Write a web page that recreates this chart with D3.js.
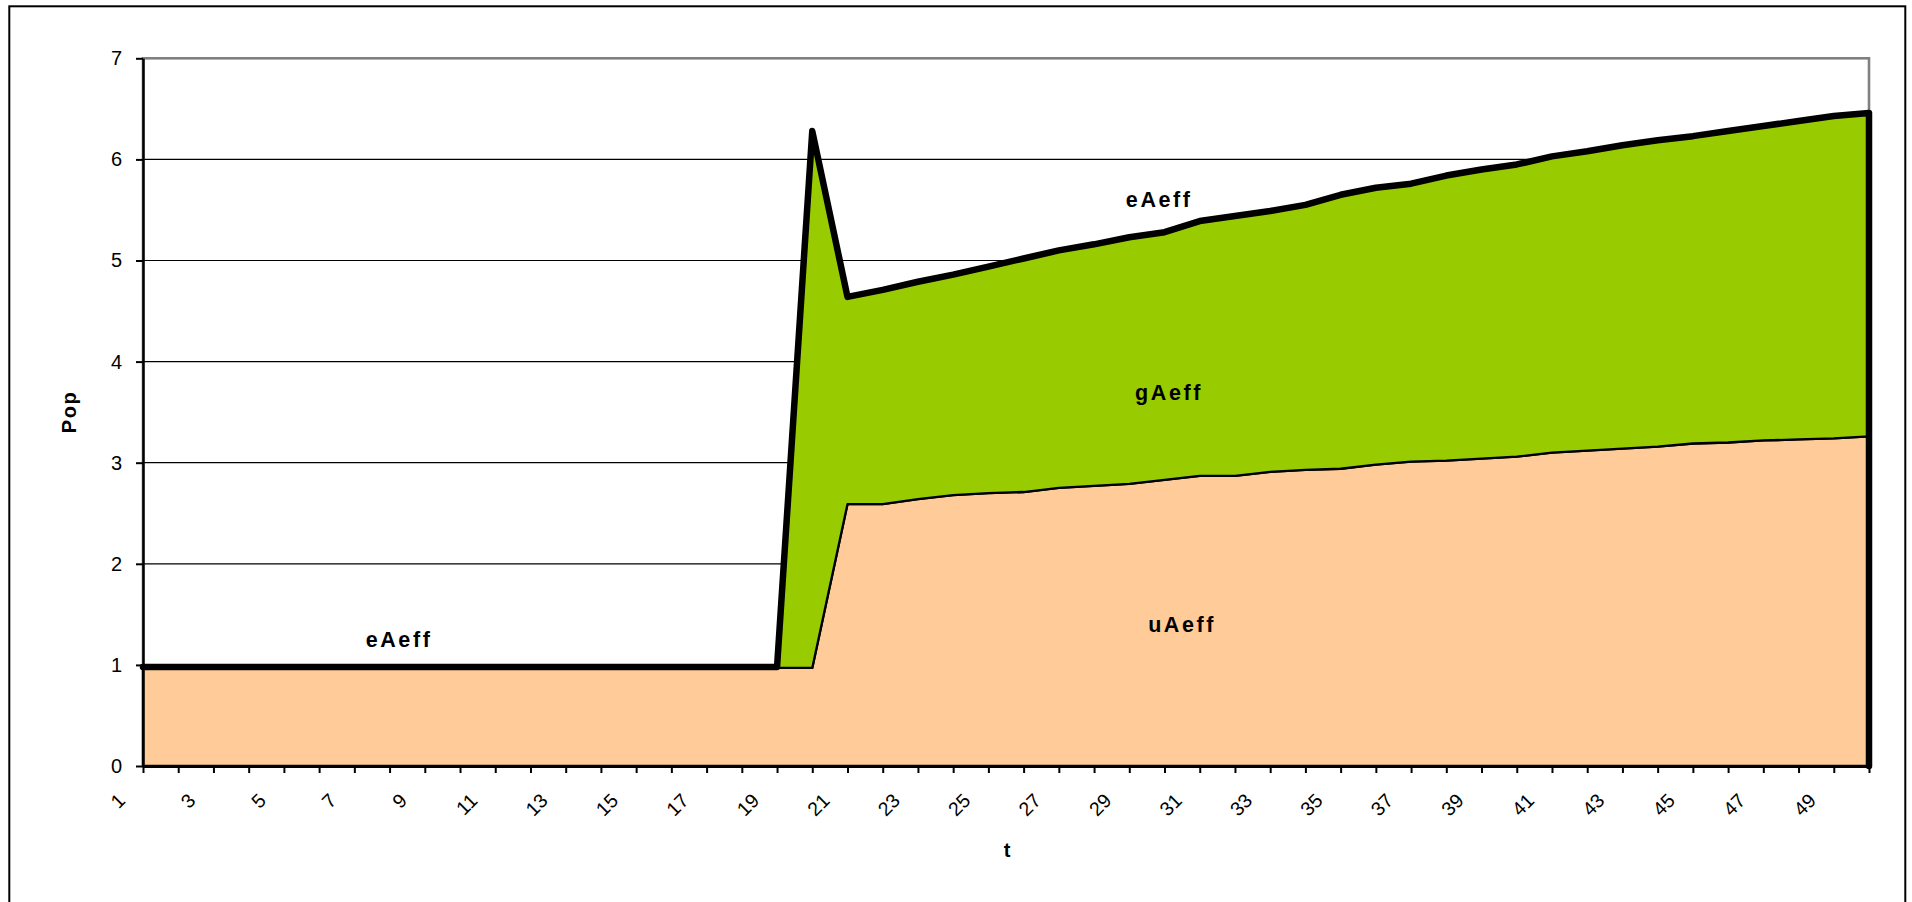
<!DOCTYPE html>
<html>
<head>
<meta charset="utf-8">
<script src="https://cdnjs.cloudflare.com/ajax/libs/d3/7.8.5/d3.min.js"></script>
<style>
  html, body { margin: 0; padding: 0; background: #fff; }
  svg { display: block; font-family: "Liberation Sans", Arial, sans-serif; }
</style>
</head>
<body>
<svg id="chart"></svg>
<script>
"use strict";

// ==========================
// data
// ==========================
var tValues = [1, 2, 3, 4, 5, 6, 7, 8, 9, 10, 11, 12, 13, 14, 15, 16, 17, 18, 19, 20,
  21, 22, 23, 24, 25, 26, 27, 28, 29, 30, 31, 32, 33, 34, 35, 36, 37, 38, 39, 40,
  41, 42, 43, 44, 45, 46, 47, 48, 49, 50];

// bottom layer
var uAeff = [0.97, 0.97, 0.97, 0.97, 0.97, 0.97, 0.97, 0.97, 0.97, 0.97,
  0.97, 0.97, 0.97, 0.97, 0.97, 0.97, 0.97, 0.97, 0.97, 0.97,
  2.59, 2.59, 2.64, 2.68, 2.70, 2.71, 2.75, 2.77, 2.79, 2.83,
  2.87, 2.87, 2.91, 2.93, 2.94, 2.98, 3.01, 3.02, 3.04, 3.06,
  3.10, 3.12, 3.14, 3.16, 3.19, 3.20, 3.22, 3.23, 3.24, 3.26];

// top of the stack (thick outline)
var eAeff = [0.98, 0.98, 0.98, 0.98, 0.98, 0.98, 0.98, 0.98, 0.98, 0.98,
  0.98, 0.98, 0.98, 0.98, 0.98, 0.98, 0.98, 0.98, 0.98, 6.28,
  4.64, 4.71, 4.79, 4.86, 4.94, 5.02, 5.10, 5.16, 5.23, 5.28,
  5.39, 5.44, 5.49, 5.55, 5.65, 5.72, 5.76, 5.84, 5.90, 5.95,
  6.03, 6.08, 6.14, 6.19, 6.23, 6.28, 6.33, 6.38, 6.43, 6.46];

var yTicks = [0, 1, 2, 3, 4, 5, 6, 7];

var seriesLabels = [
  { name: "eAeff", t: 8.27, v: 1.18 },
  { name: "eAeff", t: 29.85, v: 5.53 },
  { name: "gAeff", t: 30.13, v: 3.62 },
  { name: "uAeff", t: 30.5, v: 1.33 }
];

var rows = tValues.map(function (t, i) {
  return { t: t, u: uAeff[i], e: eAeff[i] };
});

// ==========================
// layout
// ==========================
var width = 1912,
    height = 902,
    plot = { left: 143, right: 1869, top: 58.3, bottom: 766 };

var svg = d3.select("#chart").attr("width", width).attr("height", height);

// outer frame (bottom edge runs off the page)
svg.append("rect").attr("x", 9.3).attr("y", 6.3).attr("width", 1896).attr("height", 910)
  .style("fill", "#fff").style("stroke", "#000").style("stroke-width", 2);

var x = d3.scalePoint().domain(tValues).range([plot.left, plot.right]),
    y = d3.scaleLinear().domain([0, 7]).range([plot.bottom, plot.top]);

// ==========================
// grid + plot frame
// ==========================
svg.append("g").selectAll("line").data(yTicks.filter(function (d) { return d > 0 && d < 7; }))
  .enter().append("line")
  .attr("x1", plot.left).attr("x2", plot.right)
  .attr("y1", function (d) { return y(d); }).attr("y2", function (d) { return y(d); })
  .style("stroke", "#000").style("stroke-width", 1.2);

svg.append("rect")
  .attr("x", plot.left).attr("y", y(7))
  .attr("width", plot.right - plot.left).attr("height", y(0) - y(7))
  .style("fill", "none").style("stroke", "#808080").style("stroke-width", 2.6);

// ==========================
// areas
// ==========================
var uArea = d3.area()
  .x(function (d) { return x(d.t); })
  .y0(y(0))
  .y1(function (d) { return y(d.u); });

var gArea = d3.area()
  .x(function (d) { return x(d.t); })
  .y0(function (d) { return y(d.u); })
  .y1(function (d) { return y(d.e); });

svg.append("path").attr("d", uArea(rows))
  .style("fill", "#FFCC99").style("stroke", "#000").style("stroke-width", 2.3)
  .style("stroke-linejoin", "round");

svg.append("path").attr("d", gArea(rows))
  .style("fill", "#99CC00").style("stroke", "#000").style("stroke-width", 2.3)
  .style("stroke-linejoin", "round");

// thick outline on top of the stack, down the right edge
var last = rows[rows.length - 1];
var topLine = d3.line()
  .x(function (d) { return x(d.t); })
  .y(function (d) { return d.y; });

var topPts = rows.map(function (d) { return { t: d.t, y: y(d.e) }; })
  .concat([{ t: last.t, y: y(0) }]);

svg.append("path").attr("d", topLine(topPts))
  .style("fill", "none").style("stroke", "#000").style("stroke-width", 6.5)
  .style("stroke-linejoin", "round").style("stroke-linecap", "round");

// ==========================
// axes
// ==========================
var yAxis = svg.append("g").attr("transform", "translate(" + plot.left + ",0)")
  .call(d3.axisLeft(y).tickValues(yTicks).tickFormat(d3.format("d"))
    .tickSize(7).tickPadding(14).tickSizeOuter(0));
yAxis.select(".domain").style("stroke", "#000").style("stroke-width", 2.5);
yAxis.selectAll(".tick line").style("stroke", "#000").style("stroke-width", 2);
yAxis.selectAll(".tick text").style("font-size", "20px").style("fill", "#000");

var xAxis = svg.append("g").attr("transform", "translate(0," + plot.bottom + ")")
  .call(d3.axisBottom(x).tickValues(tValues).tickSize(7).tickSizeOuter(0)
    .tickFormat(function (d) { return d % 2 === 1 ? d : ""; }));
xAxis.select(".domain").style("stroke", "#000").style("stroke-width", 2.8);
xAxis.selectAll(".tick line").style("stroke", "#000").style("stroke-width", 2);
xAxis.selectAll(".tick text")
  .attr("x", 0).attr("y", 0).attr("dy", "0.35em")
  .attr("transform", "translate(-22,31) rotate(-45)")
  .attr("text-anchor", "end")
  .style("font-size", "19.5px").style("fill", "#000");

// axis titles
svg.append("text").attr("x", 1007).attr("y", 857)
  .attr("text-anchor", "middle").style("font-weight", "bold").style("font-size", "20px")
  .text("t");

svg.append("text").attr("transform", "translate(76,412) rotate(-90)")
  .attr("text-anchor", "middle").style("font-weight", "bold").style("font-size", "20px")
  .style("letter-spacing", "1.5px").text("Pop");

// ==========================
// series labels
// ==========================
svg.append("g").selectAll("text").data(seriesLabels).enter().append("text")
  .attr("x", function (d) { return x(1) + (d.t - 1) * x.step(); })
  .attr("y", function (d) { return y(d.v); })
  .attr("text-anchor", "middle")
  .style("font-weight", "bold").style("font-size", "21.5px").style("letter-spacing", "2.6px")
  .text(function (d) { return d.name; });
</script>
</body>
</html>
